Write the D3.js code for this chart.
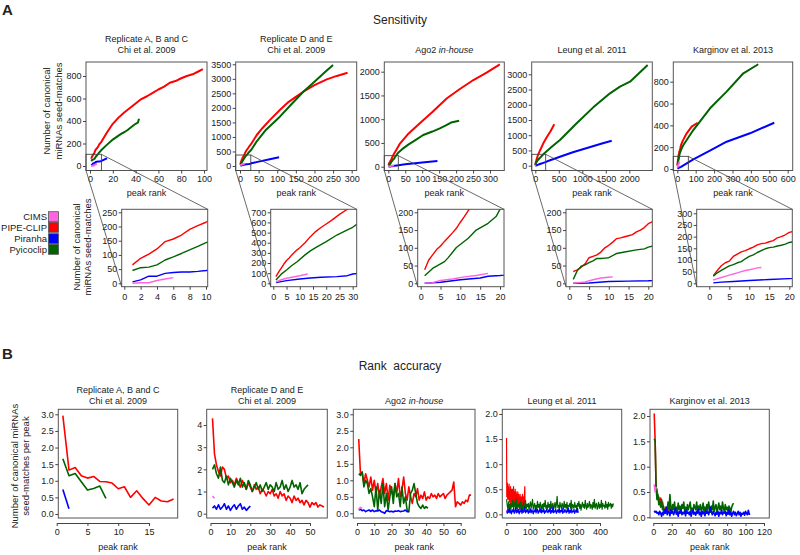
<!DOCTYPE html>
<html><head><meta charset="utf-8">
<script src="https://cdn.jsdelivr.net/npm/d3@7"></script>
<style>
body{margin:0;background:#fff}
svg text{font-family:"Liberation Sans",Arial,Helvetica,sans-serif;fill:#222}
</style></head>
<body><svg id="c" width="800" height="555"></svg>
<script>
// ---------------- DATA ----------------
const methods = ["CIMS", "PIPE-CLIP", "Piranha", "Pyicoclip"];
const methodColors = ["#ff66dd", "#ff0000", "#0000ff", "#006400"];
const datasetTitles = [["Replicate A, B and C", "Chi et al. 2009"], ["Replicate D and E", "Chi et al. 2009"], ["Ago2 ", "in-house"], ["Leung et al. 2011"], ["Karginov et al. 2013"]];

// Sensitivity: cumulative number of canonical miRNA seed-matches vs peak rank  [rank, count]
const sensABC_cims = [[1,0],[2,2],[3,2],[4,10],[5,15],[6,20]];
const sensABC_pipe = [[1,65],[2,88],[3,103],[4,121],[5,147],[6,156],[7,170],[8,190],[9,203],[10,215],[15,300],[20,375],[25,430],[30,475],[35,515],[40,555],[45,595],[50,620],[55,650],[60,680],[65,705],[70,740],[75,755],[80,780],[85,800],[90,815],[95,840],[99,862]];
const sensABC_piranha = [[1,5],[2,12],[3,25],[4,25],[5,35],[6,38],[7,40],[8,40],[9,42],[10,45],[12,55],[14,65],[15,68]];
const sensABC_pyico = [[1,45],[2,55],[3,57],[4,65],[5,82],[6,93],[7,105],[8,118],[9,130],[10,143],[15,190],[20,235],[25,270],[28,290],[30,300],[33,320],[36,345],[40,375],[42,385],[43,420]];

const sensDE_cims = [[1,15],[3,35],[5,50],[8,65],[10,75],[13,92]];
const sensDE_pipe = [[1,66],[2,110],[3,150],[4,190],[5,225],[6,250],[7,280],[8,305],[9,330],[10,350],[12,400],[14,460],[16,510],[18,550],[20,585],[22,620],[25,680],[28,730],[30,760],[45,1067],[60,1300],[80,1580],[107,1927],[130,2200],[150,2380],[170,2557],[200,2780],[233,2983],[260,3100],[289,3210]];
const sensDE_piranha = [[1,7],[5,26],[10,43],[14,52],[18,59],[24,66],[28,75],[30,92],[50,150],[80,230],[105,298]];
const sensDE_pyico = [[1,33],[3,90],[5,131],[7,175],[9,213],[12,280],[14,320],[16,352],[20,411],[24,476],[28,526],[30,552],[45,850],[70,1250],[107,1697],[140,2150],[170,2557],[200,2900],[230,3250],[250,3475]];

const sensAgo_cims = [[1,0],[3,2],[5,8],[8,12],[11,18],[14,22],[17,28]];
const sensAgo_pipe = [[1,38],[2,65],[3,80],[4,95],[5,105],[6,118],[7,130],[8,142],[9,155],[10,172],[11,188],[12,205],[15,250],[20,310],[35,492],[60,700],[93,913],[130,1150],[173,1440],[210,1630],[251,1825],[290,1980],[329,2156]];
const sensAgo_piranha = [[1,0],[5,3],[10,10],[15,15],[17,20],[20,22],[50,50],[100,90],[145,120]];
const sensAgo_pyico = [[1,21],[3,42],[6,61],[7,73],[9,101],[12,127],[14,150],[17,169],[19,188],[20,208],[30,300],[44,387],[60,470],[80,560],[103,667],[130,740],[152,808],[170,870],[185,930],[209,968]];

const sensLeung_cims = [[1,0],[4,4],[6,10],[8,15],[10,17],[11,18]];
const sensLeung_pipe = [[1,33],[2,38],[3,45],[4,55],[5,72],[6,76],[7,80],[8,88],[9,100],[10,107],[11,116],[12,126],[13,128],[14,131],[15,134],[16,137],[17,145],[18,150],[19,157],[20,168],[50,320],[100,500],[170,735],[250,950],[330,1150],[404,1359]];
const sensLeung_piranha = [[1,0],[5,1],[10,5],[15,6],[20,7],[50,25],[100,55],[200,110],[300,170],[525,295],[800,440],[1100,580],[1400,720],[1626,820]];
const sensLeung_pyico = [[1,11],[2,35],[3,48],[4,52],[5,58],[6,63],[7,70],[8,70],[9,71],[10,72],[12,84],[14,88],[17,94],[19,97],[20,102],[50,180],[100,260],[200,420],[350,620],[525,843],[880,1391],[1234,1915],[1589,2375],[1802,2593],[2015,2757],[2391,3305]];

const sensKarg_cims = [[1,14],[2,20],[3,25],[4,30],[5,35],[6,40],[7,45],[8,50],[9,55],[10,58],[11,62],[12,66],[13,68]];
const sensKarg_pipe = [[1,33],[2,55],[3,75],[4,88],[5,95],[6,115],[7,125],[8,135],[9,140],[10,148],[11,155],[12,165],[13,170],[14,172],[15,178],[16,183],[17,195],[18,200],[19,208],[20,218],[30,260],[51,327],[78,388],[111,424]];
const sensKarg_piranha = [[1,2],[3,5],[6,8],[10,12],[15,16],[20,20],[87,89],[180,170],[268,250],[395,327],[527,424]];
const sensKarg_pyico = [[1,30],[2,45],[3,55],[4,65],[5,75],[6,80],[7,88],[8,93],[9,105],[10,115],[11,122],[12,132],[13,140],[14,148],[15,153],[16,155],[17,160],[18,163],[19,168],[20,175],[33,220],[87,357],[178,556],[268,709],[359,877],[440,960]];

// Tick labels
const sensXTicks = [[0,20,40,60,80,100],[0,50,100,150,200,250,300],[0,50,100,150,200,250,300],[0,500,1000,1500,2000],[0,100,200,300,400,500,600]];
const sensYTicks = [[0,200,400,600,800],[0,500,1000,1500,2000,2500,3000,3500],[0,500,1000,1500,2000],[0,500,1000,1500,2000,2500,3000],[0,200,400,600,800]];
const zoomXTicks = [[0,2,4,6,8,10],[0,5,10,15,20,25,30],[0,5,10,15,20],[0,5,10,15,20],[0,5,10,15,20]];
const zoomYTicks = [[0,50,100,150,200,250],[0,100,200,300,400,500,600,700],[0,50,100,150,200],[0,50,100,150,200],[0,50,100,150,200,250,300]];
const zoomBox = [[10,104],[29,378],[29.5,232],[221,374],[60,116]]; // [rank, count] corner of zoom box

// Rank accuracy: seed-matches per peak at each peak rank (starting at rank 1)
const accABC_pipe = [2.96,1.32,1.40,1.15,1.08,1.13,0.98,0.97,0.93,0.76,0.82,0.50,0.70,0.47,0.27,0.50,0.39,0.37,0.45];
const accABC_pyico = [1.66,1.15,1.22,0.97,0.72,0.77,0.84,0.47];
const accABC_piranha = [0.74,0.16];
const accABC_cims = [];

const accDE_pipe = [4.3,2.7,2.2,1.9,1.7,2.1,2.0,1.6,1.7,1.4,1.5,1.3,1.6,1.4,1.2,1.5,1.3,1.1,1.4,1.2,1.0,1.3,1.1,1.2,0.9,1.1,1.0,0.8,1.0,0.9,1.1,0.8,0.9,0.7,1.0,0.8,0.9,0.6,0.8,0.7,0.5,0.8,0.6,0.7,0.5,0.6,0.4,0.6,0.5,0.3,0.5,0.4,0.5,0.3,0.4,0.35,0.3];
const accDE_pyico = [2.0,2.2,1.8,1.6,2.1,1.5,1.4,1.7,1.3,1.6,1.4,1.2,1.5,1.3,1.6,1.2,1.4,1.1,1.5,1.3,1.0,1.2,1.4,1.1,1.3,1.0,1.2,1.4,1.1,1.3,1.2,1.0,1.4,1.1,1.2,1.5,1.1,1.3,1.0,1.2,1.5,1.2,1.3,1.1,1.4,0.9,1.1,1.2,1.3];
const accDE_piranha = [0.25,0.35,0.2,0.4,0.2,0.3,0.45,0.2,0.35,0.15,0.3,0.4,0.2,0.35,0.45,0.2,0.3,0.15,0.25,0.35];
const accDE_cims = [0.8,0.7];

const accAgo_pipe = [2.25,1.2,1.25,0.9,1.2,1.0,0.8,1.1,0.7,1.0,0.6,0.9,0.5,0.8,1.05,0.6,0.9,0.4,0.85,0.7,0.5,0.9,0.6,1.05,0.5,0.7,1.1,0.6,0.4,0.8,0.5,0.3,0.6,0.5,0.75,0.4,0.55,0.45,0.65,0.4,0.5,0.45,0.6,0.5,0.55,0.45,0.6,0.5,0.55,0.6,0.45,0.55,0.6,0.65,0.7,0.95,0.2,0.35,0.3,0.25,0.35,0.3,0.4,0.35,0.55,0.55];
const accAgo_pyico = [1.2,1.15,1.25,0.8,1.0,0.9,0.6,0.75,0.5,0.2,0.8,0.1,0.7,0.3,0.9,0.2,0.6,0.1,0.5,0.8,0.3,0.9,0.5,0.6,0.2,0.8,0.3,0.5,0.1,0.05,0.6,0.7,0.9,0.6,0.3,0.2,0.15,0.25,0.15,0.2,0.15];
const accAgo_piranha = [0.1,0.12,0.08,0.1,0.05,0.08,0.1,0.06,0.1,0.05,0.08,0.07,0.1,0.05,0.03,0.0,0.08,0.07,0.05,0.06,0.04,0.07,0.06,0.08,0.05,0.06,0.07,0.1,0.05,0.05];
const accAgo_cims = [0.12,0.18,0.15];

const accLeung_pipe = [1.52,0.35,0.6,0.45,0.62,0.3,0.55,0.4,0.5,0.3,0.45,0.6,0.25,0.5,0.35,0.45,0.2,0.55,0.3,0.4,0.15,0.5,0.35,0.25,0.45,0.3,0.5,0.2,0.4,0.3,0.55,0.15,0.4,0.25,0.45,0.3,0.2,0.5,0.25,0.35,0.15,0.45,0.3,0.2,0.4,0.1,0.35,0.25,0.45,0.2,0.3,0.15,0.4,0.25,0.35,0.1,0.3,0.2,0.4,0.15,0.35,0.25,0.1,0.3,0.2,0.35,0.15,0.25,0.4,0.1,0.3,0.2,0.35,0.1,0.25,0.15,0.3,0.45,0.55,0.2];
// Leung green and blue read every 3rd rank
const accLeung_pyico = [0.30,0.18,0.10,0.25,0.12,0.20,0.08,0.22,0.15,0.28,0.10,0.18,0.25,0.12,0.30,0.08,0.20,0.15,0.22,0.10,0.26,0.14,0.18,0.09,0.24,0.16,0.12,0.28,0.10,0.20,0.15,0.22,0.08,0.18,0.25,0.12,0.20,0.30,0.10,0.16,0.22,0.12,0.18,0.08,0.26,0.14,0.20,0.10,0.24,0.16,0.12,0.20,0.09,0.22,0.15,0.28,0.12,0.18,0.10,0.24,0.14,0.20,0.08,0.26,0.12,0.18,0.22,0.10,0.16,0.24,0.12,0.20,0.36,0.14,0.18,0.10,0.24,0.16,0.12,0.22,0.18,0.10,0.26,0.14,0.20,0.12,0.24,0.08,0.18,0.16,0.22,0.12,0.28,0.10,0.20,0.16,0.12,0.24,0.14,0.18,0.10,0.22,0.16,0.26,0.12,0.20,0.08,0.18,0.24,0.14,0.20,0.12,0.28,0.16,0.10,0.22,0.14,0.18,0.26,0.12,0.20,0.16,0.10,0.24,0.14,0.30,0.12,0.18,0.22,0.10,0.16,0.24,0.12,0.20,0.14,0.28,0.10,0.22,0.16,0.18,0.12,0.26,0.14,0.20,0.10,0.24,0.16,0.18,0.22,0.12,0.20,0.15,0.22];
const accLeung_piranha = [0.08,0.02,0.10,0.04,0.12,0.03,0.07,0.01,0.09,0.05,0.11,0.02,0.06,0.13,0.03,0.08,0.04,0.10,0.01,0.07,0.05,0.12,0.02,0.09,0.04,0.06,0.14,0.03,0.08,0.05,0.10,0.02,0.07,0.04,0.11,0.03,0.09,0.06,0.01,0.08,0.05,0.12,0.03,0.07,0.10,0.02,0.06,0.09,0.04,0.13,0.03,0.08,0.05,0.11,0.02,0.07,0.04,0.10,0.06,0.03,0.09,0.05,0.12,0.02,0.08,0.04,0.15,0.03,0.07,0.05,0.10,0.02,0.06,0.09,0.04,0.11,0.03,0.08,0.05,0.13,0.02,0.07,0.04,0.10,0.06,0.03,0.09,0.05,0.12,0.02,0.08,0.04,0.11,0.03,0.07,0.05,0.10,0.02,0.06,0.09,0.04,0.12,0.03];
const accLeung_cims = [0.08,0.06];

const accKarg_pipe = [2.05,1.5,0.6,0.55,0.35,0.4,0.3,0.38,0.25,0.3,0.2,0.15,0.1,0.12,0.15,0.1,0.12,0.18,0.12,0.15];
const accKarg_pyico = [1.55,1.5,0.6,0.35,0.45,0.25,0.3,0.2,0.35,0.15,0.22,0.1,0.08,0.2,0.12,0.3,0.15,0.45,0.2,0.1,0.25,0.15,0.3,0.1,0.2,0.12,0.28,0.15,0.22,0.1,0.25,0.18,0.3,0.12,0.2,0.08,0.25,0.15,0.22,0.3,0.12,0.18,0.1,0.25,0.2,0.15,0.3,0.1,0.22,0.15,0.25,0.12,0.18,0.28,0.1,0.2,0.15,0.25,0.12,0.3,0.18,0.1,0.22,0.15,0.32,0.12,0.2,0.25,0.1,0.18,0.28,0.15,0.22,0.12,0.3,0.18,0.1,0.25,0.15,0.2,0.12,0.22,0.18,0.1,0.2,0.25,0.28];
const accKarg_piranha = [0.13,0.1,0.12,0.08,0.1,0.05,0.12,0.08,0.02,0.1,0.05,0.15,0.08,0.2,0.05,0.12,0.1,0.03,0.15,0.08,0.12,0.05,0.1,0.18,0.06,0.1,0.02,0.12,0.08,0.15,0.05,0.1,0.07,0.12,0.03,0.14,0.08,0.1,0.05,0.12,0.02,0.09,0.15,0.06,0.1,0.04,0.12,0.08,0.16,0.05,0.1,0.02,0.12,0.07,0.1,0.03,0.14,0.08,0.11,0.05,0.12,0.2,0.1,0.05,0.12,0.08,0.03,0.1,0.06,0.12,0.02,0.1,0.07,0.14,0.05,0.1,0.08,0.12,0.03,0.1,0.06,0.15,0.05,0.1,0.02,0.08,0.12,0.05,0.1,0.03,0.07,0.12,0.05,0.1,0.02,0.08,0.06,0.1,0.04,0.12,0.08,0.05,0.14,0.06,0.06];
const accKarg_cims = [0.65,0.5,0.6];

const accXTicks = [[0,5,10,15],[0,10,20,30,40,50],[0,10,20,30,40,50,60],[0,100,200,300,400],[0,20,40,60,80,100,120]];
const accYTicks = [[0,0.5,1,1.5,2,2.5,3],[0,1,2,3,4],[0,0.5,1,1.5,2,2.5,3],[0,0.5,1,1.5,2],[0,0.5,1,1.5,2]];
const accRankStep = [1,1,1,3,1]; // Leung green/blue read every 3rd rank

// ---------------- LAYOUT ----------------
const sensSeries = [
  [sensABC_cims, sensABC_pipe, sensABC_piranha, sensABC_pyico],
  [sensDE_cims, sensDE_pipe, sensDE_piranha, sensDE_pyico],
  [sensAgo_cims, sensAgo_pipe, sensAgo_piranha, sensAgo_pyico],
  [sensLeung_cims, sensLeung_pipe, sensLeung_piranha, sensLeung_pyico],
  [sensKarg_cims, sensKarg_pipe, sensKarg_piranha, sensKarg_pyico]];
const accSeries = [
  [accABC_cims, accABC_pipe, accABC_piranha, accABC_pyico],
  [accDE_cims, accDE_pipe, accDE_piranha, accDE_pyico],
  [accAgo_cims, accAgo_pipe, accAgo_piranha, accAgo_pyico],
  [accLeung_cims, accLeung_pipe, accLeung_piranha, accLeung_pyico],
  [accKarg_cims, accKarg_pipe, accKarg_piranha, accKarg_pyico]];

const mainL = [
  {f:[86,207,62,170.5], xd:[0,100], xr:[90,204], yd:[0,800], yr:[166,76]},
  {f:[235.7,356.7,62,170.5], xd:[0,300], xr:[240,351.7], yd:[0,3500], yr:[166,64.3]},
  {f:[384.3,504.3,62,170.5], xd:[0,300], xr:[388.3,490], yd:[0,2000], yr:[166.7,71.7]},
  {f:[531.7,652.3,62,170.5], xd:[0,2000], xr:[535.3,629.3], yd:[0,3000], yr:[165.7,74.3]},
  {f:[673.3,792.7,62,170.5], xd:[0,600], xr:[677.3,787.7], yd:[0,800], yr:[169,81.7]}];
const zoomL = [
  {f:[121.7,207.7,209.3,286.7], xd:[0,10], xr:[124.3,206], yd:[0,250], yr:[283.3,212.3]},
  {f:[270.7,356.7,209.3,286.7], xd:[0,30], xr:[273.3,352.7], yd:[0,700], yr:[283.3,212.3]},
  {f:[417.7,504,209.3,286.7], xd:[0,20], xr:[420.7,500], yd:[0,200], yr:[283.3,212.3]},
  {f:[566,652.3,209.3,286.7], xd:[0,20], xr:[569.3,648.3], yd:[0,200], yr:[283.3,212.3]},
  {f:[696.7,792.3,209.3,286.7], xd:[0,20], xr:[709.3,789.3], yd:[0,300], yr:[283.3,213.3]}];
const accL = [
  {f:[58.3,177.7,409.3,518], xd:[0,15], xr:[56.7,149], yd:[0,3], yr:[514,414.3]},
  {f:[206.7,327.3,409.3,518], xd:[0,50], xr:[210.5,310], yd:[0,4], yr:[513.7,425]},
  {f:[353.3,475,409.3,518], xd:[0,60], xr:[357,460.7], yd:[0,3], yr:[513.3,414.3]},
  {f:[502.3,621.7,409.3,518], xd:[0,400], xr:[506.3,600], yd:[0,2], yr:[514.3,414]},
  {f:[650,769.3,409.3,518], xd:[0,120], xr:[653.3,764], yd:[0,2], yr:[517.3,416]}];
const accAxisY = 523;
const drawOrder = [1, 3, 2, 0];

// ---------------- DRAW ----------------
const svg = d3.select("#c");
const FONT = '"Liberation Sans", Arial, Helvetica, sans-serif';
const FRAME = "#555";
const TICKFS = 9, TITLEFS = 9;
let clipId = 0;

function text(x, y, s, o = {}) {
  const t = svg.append("text").attr("x", x).attr("y", y).text(s)
    .attr("font-size", o.size || 10).attr("text-anchor", o.anchor || "middle");
  if (o.weight) t.attr("font-weight", o.weight);
  if (o.pre) t.style("white-space", "pre");
  return t;
}
function vtext(x, yc, s, size) {
  svg.append("text").attr("transform", `translate(${x},${yc}) rotate(-90)`)
    .attr("text-anchor", "middle").attr("dy", "0.35em").attr("font-size", size).text(s);
}
function styleAxis(a, fs) {
  a.attr("font-family", FONT).attr("font-size", fs);
  a.select(".domain").attr("stroke", "#444");
  a.selectAll(".tick line").attr("stroke", "#444");
  a.selectAll(".tick text").attr("fill", "#222");
}
function panel(L, series, xt, yt, o) {
  const x = d3.scaleLinear().domain(L.xd).range(L.xr);
  const y = d3.scaleLinear().domain(L.yd).range(L.yr);
  const [l, r, t, b] = L.f;
  const id = "clip" + (clipId++);
  svg.append("clipPath").attr("id", id).append("rect")
    .attr("x", l).attr("y", t).attr("width", r - l).attr("height", b - t);
  const g = svg.append("g").attr("clip-path", `url(#${id})`);
  const line = d3.line().x(d => x(d[0])).y(d => y(d[1]));
  drawOrder.forEach(k => {
    const d = series[k];
    if (!d || d.length === 0) return;
    g.append("path").datum(d).attr("d", line).attr("fill", "none")
      .attr("stroke", methodColors[k]).attr("stroke-width", o.sw)
      .attr("stroke-linejoin", "round");
  });
  svg.append("rect").attr("x", l).attr("y", t).attr("width", r - l).attr("height", b - t)
    .attr("fill", "none").attr("stroke", FRAME).attr("stroke-width", 1);
  const ya = svg.append("g").attr("transform", `translate(${l},0)`)
    .call(d3.axisLeft(y).tickValues(yt).tickSize(3).tickSizeOuter(0).tickPadding(1.5).tickFormat(o.yfmt));
  styleAxis(ya, TICKFS);
  ya.select(".domain").remove();
  const xa = svg.append("g").attr("transform", `translate(0,${o.xAxisY || b})`)
    .call(d3.axisBottom(x).tickValues(xt).tickSize(3).tickSizeOuter(0).tickPadding(o.xpad).tickFormat(d3.format("d")));
  styleAxis(xa, TICKFS);
  if (!o.xAxisY) xa.select(".domain").remove();
  return {x, y};
}

// Headings
text(2, 15, "A", {size: 15, weight: "bold", anchor: "start"});
text(400, 24, "Sensitivity", {size: 12});
text(2, 359, "B", {size: 15, weight: "bold", anchor: "start"});
text(400, 370, "Rank  accuracy", {size: 12, pre: true});

function title(cx, lines, yTwo, yOne, i) {
  if (i === 2) {
    const t = text(cx, yOne, lines[0], {size: TITLEFS});
    t.append("tspan").attr("font-style", "italic").text(lines[1]);
  } else if (lines.length === 2) {
    text(cx, yTwo, lines[0], {size: TITLEFS});
    text(cx, yOne, lines[1], {size: TITLEFS});
  } else text(cx, yOne, lines[0], {size: TITLEFS});
}

// Sensitivity row + zoom row
for (let i = 0; i < 5; i++) {
  const M = mainL[i], Z = zoomL[i];
  title((M.f[0] + M.f[1]) / 2, datasetTitles[i], 42, 53.3, i);
  const sm = panel(M, sensSeries[i], sensXTicks[i], sensYTicks[i], {sw: 2, xpad: 2, yfmt: d3.format("d")});
  text((M.f[0] + M.f[1]) / 2, 196, "peak rank", {size: 9});
  panel(Z, sensSeries[i], zoomXTicks[i], zoomYTicks[i], {sw: 1.4, xpad: 4, yfmt: d3.format("d")});
  // zoom box and connectors
  const bx1 = sm.x(zoomBox[i][0]), by1 = sm.y(zoomBox[i][1]);
  svg.append("rect").attr("x", M.f[0]).attr("y", by1).attr("width", bx1 - M.f[0]).attr("height", M.f[3] - by1)
    .attr("fill", "none").attr("stroke", "#444").attr("stroke-width", 0.9);
  svg.append("line").attr("x1", M.f[0]).attr("y1", M.f[3]).attr("x2", Z.f[0]).attr("y2", Z.f[3])
    .attr("stroke", "#444").attr("stroke-width", 0.8);
  svg.append("line").attr("x1", bx1).attr("y1", by1).attr("x2", Z.f[1]).attr("y2", Z.f[2])
    .attr("stroke", "#444").attr("stroke-width", 0.8);
}
vtext(46.7, 111, "Number of canonical", 9.5);
vtext(58.3, 111, "miRNAs seed-matches", 9.5);
vtext(76.7, 247, "Number of canonical", 9.5);
vtext(87.3, 247, "miRNAs seed-matches", 9.5);

// Legend
const legY = [216.7, 227.3, 238.7, 249.3];
methods.forEach((m, k) => {
  svg.append("rect").attr("x", 48.5).attr("y", legY[k] - 5).attr("width", 10).attr("height", 10)
    .attr("fill", methodColors[k]).attr("stroke", "#555").attr("stroke-width", 0.8);
  text(47, legY[k] + 3.3, m, {size: 9.5, anchor: "end"});
});

// Rank accuracy row
for (let i = 0; i < 5; i++) {
  const L = accL[i];
  title((L.f[0] + L.f[1]) / 2, datasetTitles[i], 393, 404, i);
  const ser = accSeries[i].map((arr, k) => {
    const step = (k === 2 || k === 3) ? accRankStep[i] : 1;
    return arr.map((v, j) => [1 + j * step, v]);
  });
  const dense = i === 3;
  panel(L, ser, accXTicks[i], accYTicks[i], {sw: dense ? 1.2 : 1.6, xpad: 2.5, xAxisY: accAxisY,
    yfmt: i === 1 ? d3.format("d") : d3.format(".1f")});
  text((L.f[0] + L.f[1]) / 2, 550, "peak rank", {size: 9});
}
vtext(15, 466, "Number of canonical miRNAs", 9.5);
vtext(25.5, 466, "seed-matches per peak", 9.5);
</script></body></html>
